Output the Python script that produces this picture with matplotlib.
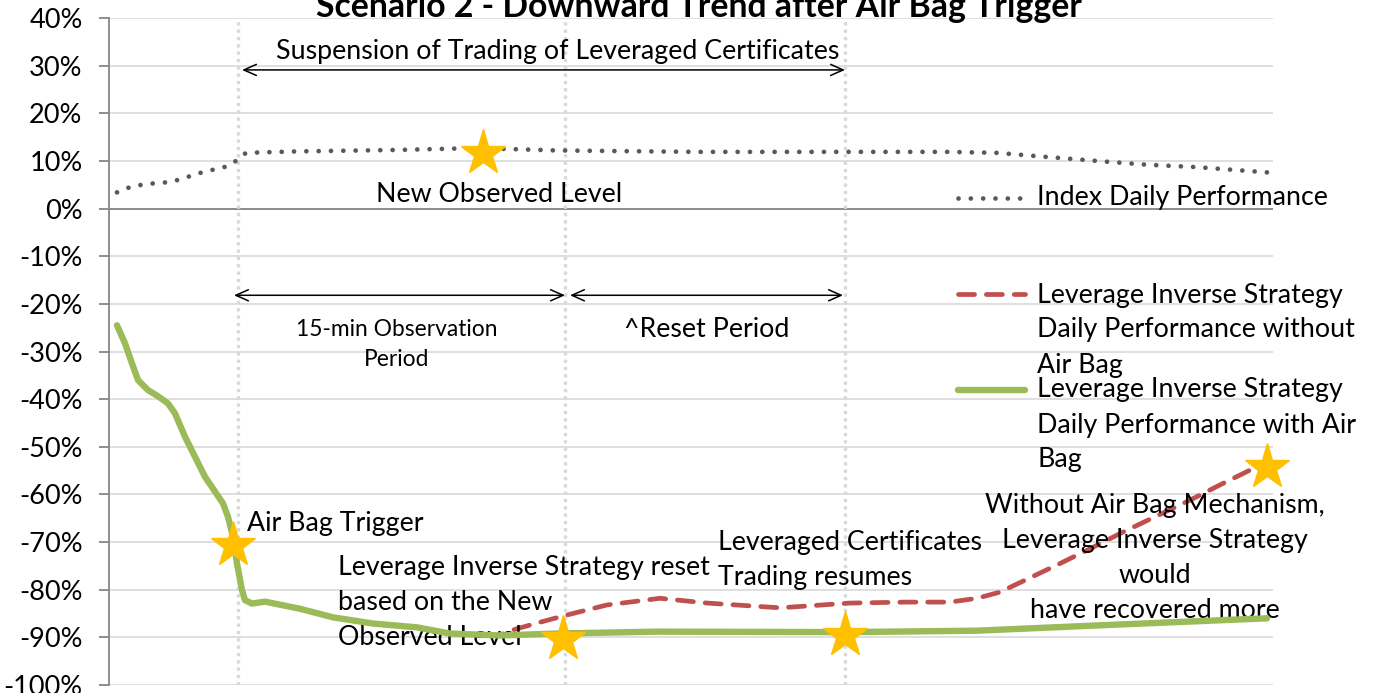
import matplotlib
matplotlib.use("Agg")
import matplotlib.pyplot as plt
from matplotlib.ticker import FuncFormatter

plt.rcParams['font.family'] = ['Lato', 'DejaVu Sans']

# ---------------- data (time steps, percent) ----------------
index_t = [0, 1.3, 2.5, 3.7, 4.9, 6.1, 7.3, 8.5, 9.7, 10.9, 11.9, 12.9, 18, 28, 36,
           44, 58, 73, 83, 88, 92, 98, 103, 108, 115]
index_v = [3.4, 4.5, 5.0, 5.3, 5.5, 6.0, 6.8, 7.6, 8.2, 8.8, 10.0, 11.7, 12.0, 12.3, 12.7,
           12.2, 11.9, 11.9, 11.9, 11.7, 11.0, 10.0, 9.2, 8.7, 7.6]

with_t = [0, 0.8, 1.5, 2.1, 3.1, 4.1, 5.1, 5.8, 6.8, 7.8, 8.8, 9.8, 10.6, 11.1, 11.6,
          12.0, 12.5, 12.8, 13.5, 14.8, 18.3, 21.6, 25.6, 30, 33.3, 38.3, 44, 54, 73,
          86, 98, 115]
with_v = [-24.5, -28.3, -32.5, -36.0, -38.1, -39.4, -40.9, -43.0, -47.9, -52.1, -56.3,
          -59.4, -61.9, -64.7, -68.9, -74.5, -80.1, -82.2, -82.9, -82.5, -84, -85.8,
          -87.1, -87.9, -89.2, -89.6, -89.2, -88.8, -88.9, -88.6, -87.5, -86]

without_t = [0, 0.8, 1.5, 2.1, 3.1, 4.1, 5.1, 5.8, 6.8, 7.8, 8.8, 9.8, 10.6, 11.1, 11.6,
             12.0, 12.5, 12.8, 13.5, 14.8, 18.3, 21.6, 25.6, 30, 33.3, 38.3, 39, 42,
             45, 49, 54.3, 59, 66.3, 73.3, 79, 83.3, 86, 88.3, 91, 94.3, 97.5, 100.6,
             104, 107.3, 110.3, 113.3, 115]
without_v = [-24.5, -28.3, -32.5, -36.0, -38.1, -39.4, -40.9, -43.0, -47.9, -52.1,
             -56.3, -59.4, -61.9, -64.7, -68.9, -74.5, -80.1, -82.2, -82.9, -82.5, -84,
             -85.8, -87.1, -87.9, -89.2, -89.6, -88.8, -87.0, -85.3, -83.2, -81.8,
             -82.8, -83.8, -82.8, -82.6, -82.6, -81.8, -80.5, -77.8, -74.5, -71.2,
             -67.9, -64.5, -61.2, -58.0, -54.9, -53.8]

star_t = [11.6, 36.6, 44.6, 72.8, 115]
star_v = [-70.7, 11.6, -90.4, -89.6, -54.3]

event_t = [12.1, 44.8, 72.8]      # vertical dotted markers
yticks = list(range(-100, 41, 10))

title = "Scenario 2 - Downward Trend after Air Bag Trigger"
lbl_index = "Index Daily Performance"
lbl_without = "Leverage Inverse Strategy\nDaily Performance without\nAir Bag"
lbl_with = "Leverage Inverse Strategy\nDaily Performance with Air\nBag"

# ---------------- figure ----------------
W, H = 1374, 693
fig = plt.figure(figsize=(W / 100, H / 100), dpi=100)
ax = fig.add_axes([109 / W, 1 - 685 / H, 1164 / W, 667 / H])

ax.set_xlim(-0.8, 115.6)
ax.set_ylim(-100, 40)
ax.set_yticks(yticks)
ax.yaxis.set_major_formatter(FuncFormatter(lambda v, p: f"{int(round(v))}%"))
ax.set_xticks([])
ax.grid(axis='y', color='#D9D9D9', lw=1.2, zorder=0)
ax.set_axisbelow(True)
for s in ['top', 'right', 'bottom']:
    ax.spines[s].set_visible(False)
ax.spines['left'].set_color('#868686')
ax.spines['left'].set_linewidth(1.3)
ax.tick_params(axis='y', direction='out', length=7, width=1.3, color='#868686',
               labelsize=19.5, pad=12, labelcolor='black')
ax.axhline(0, color='#868686', lw=1.3, zorder=1)

for xv in event_t:
    ax.axvline(xv, color='#D9D9D9', lw=2.4, ls=(0, (1, 1.2)), zorder=1)

ax.plot(index_t, index_v, color='#595959', lw=3.4, ls=(0, (0.01, 2.6)),
        dash_capstyle='round', zorder=3)
ax.plot(without_t, without_v, color='#C0504D', lw=3.4, ls=(0, (3.4, 2.5)),
        dash_capstyle='round', solid_joinstyle='round', zorder=3)
ax.plot(with_t, with_v, color='#9BBB59', lw=4.6, solid_capstyle='round',
        solid_joinstyle='round', zorder=4)
ax.plot(star_t, star_v, ls='none', marker='*', ms=34, color='#FFC000',
        mec='#FFC000', zorder=5, clip_on=False)

# ---------------- annotations ----------------
fs = 19.3
ls_ = 1.5
arrow_kw = dict(arrowstyle='<->,head_length=0.9,head_width=0.4', color='black', lw=1.1,
                shrinkA=0, shrinkB=0)
ax.annotate('', xy=(12.5, 29.1), xytext=(72.8, 29.1), arrowprops=arrow_kw)
ax.annotate('', xy=(11.7, -18.2), xytext=(44.8, -18.2), arrowprops=arrow_kw)
ax.annotate('', xy=(45.3, -18.2), xytext=(72.6, -18.2), arrowprops=arrow_kw)

ax.text(44.1, 32.9, "Suspension of Trading of Leveraged Certificates", ha='center',
        va='center', fontsize=fs)
ax.text(38.2, 3.0, "New Observed Level", ha='center', va='center', fontsize=fs)
ax.text(28.0, -28.5, "15-min Observation\nPeriod", ha='center', va='center',
        fontsize=16.4, linespacing=1.5)
ax.text(59.0, -25.3, "^Reset Period", ha='center', va='center', fontsize=fs)
ax.text(13.0, -66.0, "Air Bag Trigger", ha='left', va='center', fontsize=fs)
ax.text(22.1, -82.6, "Leverage Inverse Strategy reset\nbased on the New\nObserved Level",
        ha='left', va='center', fontsize=fs, linespacing=ls_)
ax.text(60.1, -73.8, "Leveraged Certificates\nTrading resumes", ha='left', va='center',
        fontsize=fs, linespacing=ls_)
ax.text(103.8, -73.4, "Without Air Bag Mechanism,\nLeverage Inverse Strategy\nwould\nhave recovered more",
        ha='center', va='center', fontsize=fs, linespacing=ls_)

fig.text(699 / W, 1 - 17 / H, title, ha='center', va='baseline', fontsize=24.3,
         fontweight='bold')

# ---------------- legend (drawn manually, Excel style) ----------------
def ax_y(py):
    return (685 - py) / 667.0

def ax_x(px):
    return (px - 109) / 1164.0

hx0, hx1, tx = ax_x(958), ax_x(1025), ax_x(1037)
ax.plot([hx0, hx1], [ax_y(198)] * 2, transform=ax.transAxes, clip_on=False,
        color='#595959', lw=3.4, ls=(0, (0.01, 2.6)), dash_capstyle='round')
ax.text(tx, ax_y(198), lbl_index, transform=ax.transAxes, ha='left', va='center',
        fontsize=fs)
ax.plot([hx0, hx1], [ax_y(294)] * 2, transform=ax.transAxes, clip_on=False,
        color='#C0504D', lw=3.4, ls=(0, (3.4, 2.5)), dash_capstyle='round')
ax.text(tx, ax_y(330), lbl_without, transform=ax.transAxes, ha='left', va='center',
        fontsize=fs, linespacing=ls_)
ax.plot([hx0, hx1], [ax_y(390)] * 2, transform=ax.transAxes, clip_on=False,
        color='#9BBB59', lw=4.6, solid_capstyle='round')
ax.text(tx, ax_y(425), lbl_with, transform=ax.transAxes, ha='left', va='center',
        fontsize=fs, linespacing=ls_)

fig.savefig("out.png", dpi=100)
